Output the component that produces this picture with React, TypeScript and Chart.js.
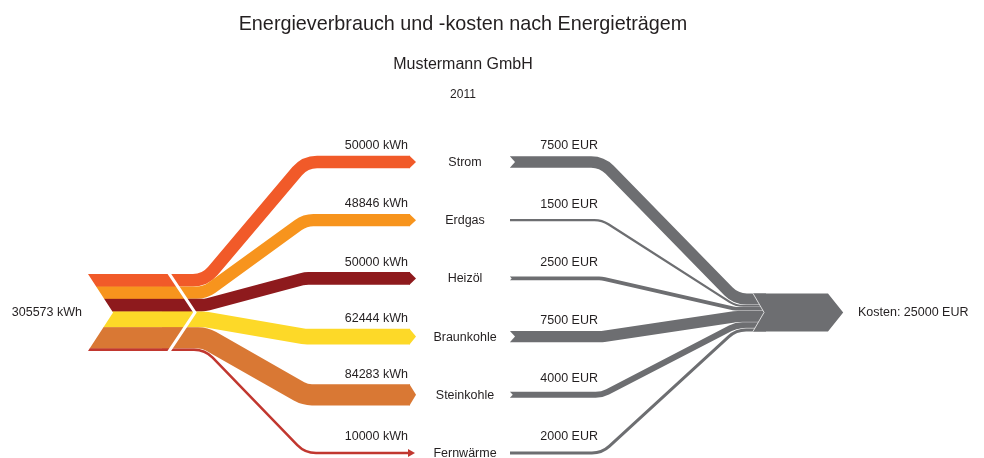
import React, { useEffect, useRef } from 'react';
import { Chart, registerables } from 'chart.js';

Chart.register(...registerables);

// ---------- data ----------
const chartTitle = 'Energieverbrauch und -kosten nach Energieträgem';
const chartSubtitle = 'Mustermann GmbH';
const chartYear = '2011';

const carriers = ['Strom', 'Erdgas', 'Heizöl', 'Braunkohle', 'Steinkohle', 'Fernwärme'];
const consumptionKWh = [50000, 48846, 50000, 62444, 84283, 10000];
const costsEUR = [7500, 1500, 2500, 7500, 4000, 2000];

const carrierColors = ['#F15A29', '#F7941D', '#8E1A1D', '#FDD928', '#D97834', '#C1372F'];
const costColor = '#6D6E71';
const textColor = '#231F20';

const totalKWh = consumptionKWh.reduce((a, b) => a + b, 0);
const totalEUR = costsEUR.reduce((a, b) => a + b, 0);

// ---------- layout (axis units) ----------
// x axis: layout units across the canvas; y axis: node rows (0..5)
const X_MIN = 0;
const X_MAX = 984;
const Y_MIN = -2.783;
const Y_MAX = 5.086;
const BLOCK_ROW = 2.585;
const KWH_PER_ROW = 231000;
const EUR_PER_ROW = 38300;

const SRC_LEFT = 88;
const SRC_CUT = 168;
const KWH_BEND1 = 205;
const KWH_BEND2 = 305;
const KWH_END = 410;
const NODE_LABEL_X = 465;
const KWH_LABEL_X = 408;
const EUR_START = 510;
const EUR_BEND1 = 602;
const EUR_BEND2 = 736;
const EUR_END = 766;
const EUR_LABEL_X = 598;
const SINK_LEFT = 753;
const SINK_TIP_START = 828;
const SOURCE_LABEL_X = 82;
const SINK_LABEL_X = 858;
const TITLE_X = 463;

const FONT = '"Liberation Sans", Arial, Helvetica, sans-serif';

function fmt(n: number) {
  return String(n);
}

const sankeyPlugin = {
  id: 'sankeyPlugin',
  afterDatasetsDraw(chart: any) {
    const ctx: CanvasRenderingContext2D = chart.ctx;
    const xs = chart.scales.x;
    const ys = chart.scales.y;
    const X = (v: number) => xs.getPixelForValue(v);
    const Y = (v: number) => ys.getPixelForValue(v);
    const pxPerRow = Y(1) - Y(0);
    const kwhPx = (v: number) => (v / KWH_PER_ROW) * pxPerRow;
    const eurPx = (v: number) => (v / EUR_PER_ROW) * pxPerRow;

    ctx.save();

    // ---- titles ----
    ctx.fillStyle = textColor;
    ctx.textAlign = 'center';
    ctx.textBaseline = 'alphabetic';
    const cx = X(TITLE_X);
    ctx.font = `19.8px ${FONT}`;
    ctx.fillText(chartTitle, cx, 30);
    ctx.font = `16px ${FONT}`;
    ctx.fillText(chartSubtitle, cx, 69);
    ctx.font = `12px ${FONT}`;
    ctx.fillText(chartYear, cx, 98);

    // ---- source block geometry ----
    const blockCenter = Y(BLOCK_ROW);
    const T = kwhPx(totalKWh);
    const top = blockCenter - T / 2;
    const bottom = blockCenter + T / 2;
    const chevDepth = 0.7 * (T / 2);

    const srcCenters: number[] = [];
    const srcThick: number[] = [];
    let acc = top;
    consumptionKWh.forEach((v) => {
      const t = kwhPx(v);
      srcThick.push(t);
      srcCenters.push(acc + t / 2);
      acc += t;
    });

    // ---- kWh flows ----
    const r = 26;
    consumptionKWh.forEach((v, i) => {
      const t = srcThick[i];
      const y0 = srcCenters[i];
      const y1 = Y(i);
      ctx.beginPath();
      ctx.moveTo(X(SRC_CUT) - 6, y0);
      ctx.arcTo(X(KWH_BEND1), y0, X(KWH_BEND2), y1, r);
      ctx.arcTo(X(KWH_BEND2), y1, X(KWH_END), y1, r);
      ctx.lineTo(X(KWH_END), y1);
      ctx.lineWidth = t;
      ctx.lineCap = 'butt';
      ctx.lineJoin = 'round';
      ctx.strokeStyle = carrierColors[i];
      ctx.stroke();

      // arrow tip
      ctx.beginPath();
      const h = t / 2;
      if (h >= 3) {
        ctx.moveTo(X(KWH_END) - 0.5, y1 - h);
        ctx.lineTo(X(KWH_END) + 6, y1);
        ctx.lineTo(X(KWH_END) - 0.5, y1 + h);
      } else {
        ctx.moveTo(X(KWH_END) - 2, y1 - 4);
        ctx.lineTo(X(KWH_END) + 5, y1);
        ctx.lineTo(X(KWH_END) - 2, y1 + 4);
      }
      ctx.closePath();
      ctx.fillStyle = carrierColors[i];
      ctx.fill();
    });

    // ---- source block ----
    ctx.save();
    ctx.beginPath();
    ctx.moveTo(X(SRC_LEFT), top);
    ctx.lineTo(X(SRC_CUT), top);
    ctx.lineTo(X(SRC_CUT) + chevDepth, blockCenter);
    ctx.lineTo(X(SRC_CUT), bottom);
    ctx.lineTo(X(SRC_LEFT), bottom);
    ctx.lineTo(X(SRC_LEFT) + chevDepth * 0.93, blockCenter);
    ctx.closePath();
    ctx.clip();
    consumptionKWh.forEach((v, i) => {
      ctx.fillStyle = carrierColors[i];
      ctx.fillRect(X(SRC_LEFT) - 1, srcCenters[i] - srcThick[i] / 2, X(SRC_CUT) + chevDepth - X(SRC_LEFT) + 2, srcThick[i] + 0.4);
    });
    ctx.restore();
    ctx.beginPath();
    ctx.moveTo(X(SRC_CUT), top - 2);
    ctx.lineTo(X(SRC_CUT) + chevDepth, blockCenter);
    ctx.lineTo(X(SRC_CUT), bottom + 2);
    ctx.lineWidth = 3;
    ctx.strokeStyle = '#FFFFFF';
    ctx.lineJoin = 'miter';
    ctx.stroke();

    // ---- sink geometry ----
    const S = eurPx(totalEUR);
    const sTop = blockCenter - S / 2;
    const sBottom = blockCenter + S / 2;
    const sinkCenters: number[] = [];
    const sinkThick: number[] = [];
    acc = sTop;
    costsEUR.forEach((v) => {
      const t = eurPx(v);
      sinkThick.push(t);
      sinkCenters.push(acc + t / 2);
      acc += t;
    });

    // ---- EUR flows ----
    costsEUR.forEach((v, i) => {
      const t = sinkThick[i];
      const y0 = Y(i);
      const y1 = sinkCenters[i];
      const path = () => {
        ctx.beginPath();
        ctx.moveTo(X(EUR_START), y0);
        ctx.arcTo(X(EUR_BEND1), y0, X(EUR_BEND2), y1, r);
        ctx.arcTo(X(EUR_BEND2), y1, X(EUR_END), y1, r);
        ctx.lineTo(X(EUR_END), y1);
      };
      ctx.lineCap = 'butt';
      ctx.lineJoin = 'round';
      path();
      ctx.lineWidth = t + 1.2;
      ctx.strokeStyle = 'rgba(255,255,255,0.55)';
      ctx.stroke();
      path();
      ctx.lineWidth = t;
      ctx.strokeStyle = costColor;
      ctx.stroke();

      // notch at tail
      const h = t / 2;
      const d = Math.min(5, h * 0.9);
      if (d > 1.5) {
        ctx.beginPath();
        ctx.moveTo(X(EUR_START) - 1, y0 - h - 1);
        ctx.lineTo(X(EUR_START) + d, y0);
        ctx.lineTo(X(EUR_START) - 1, y0 + h + 1);
        ctx.closePath();
        ctx.fillStyle = '#FFFFFF';
        ctx.fill();
      }
    });

    // ---- sink block ----
    const sNotch = 0.58 * (S / 2);
    const sTip = 0.8 * (S / 2);
    ctx.beginPath();
    ctx.moveTo(X(SINK_LEFT), sTop);
    ctx.lineTo(X(SINK_TIP_START), sTop);
    ctx.lineTo(X(SINK_TIP_START) + sTip, blockCenter);
    ctx.lineTo(X(SINK_TIP_START), sBottom);
    ctx.lineTo(X(SINK_LEFT), sBottom);
    ctx.lineTo(X(SINK_LEFT) + sNotch, blockCenter);
    ctx.closePath();
    ctx.fillStyle = costColor;
    ctx.fill();
    ctx.beginPath();
    ctx.moveTo(X(SINK_LEFT), sTop);
    ctx.lineTo(X(SINK_LEFT) + sNotch, blockCenter);
    ctx.lineTo(X(SINK_LEFT), sBottom);
    ctx.lineWidth = 1;
    ctx.strokeStyle = 'rgba(255,255,255,0.75)';
    ctx.lineJoin = 'miter';
    ctx.stroke();

    // ---- labels ----
    ctx.fillStyle = textColor;
    ctx.font = `12.5px ${FONT}`;
    ctx.textBaseline = 'middle';

    carriers.forEach((name, i) => {
      const yRow = Y(i);
      ctx.textAlign = 'center';
      ctx.fillText(name, X(NODE_LABEL_X), yRow + 0.5);
      ctx.textAlign = 'right';
      const kOff = Math.max(16, srcThick[i] / 2 + 10);
      ctx.fillText(`${fmt(consumptionKWh[i])} kWh`, X(KWH_LABEL_X), yRow - kOff);
      const eOff = Math.max(16, sinkThick[i] / 2 + 10);
      ctx.fillText(`${fmt(costsEUR[i])} EUR`, X(EUR_LABEL_X), yRow - eOff);
    });

    ctx.textAlign = 'right';
    ctx.fillText(`${fmt(totalKWh)} kWh`, X(SOURCE_LABEL_X), blockCenter + 0.5);
    ctx.textAlign = 'left';
    ctx.fillText(`Kosten: ${fmt(totalEUR)} EUR`, X(SINK_LABEL_X), blockCenter + 0.5);

    ctx.restore();
  },
};

export default function App() {
  const canvasRef = useRef<HTMLCanvasElement | null>(null);

  useEffect(() => {
    document.body.style.margin = '0';
    const canvas = canvasRef.current;
    if (!canvas) return;
    const chart = new Chart(canvas, {
      type: 'scatter',
      data: {
        datasets: [
          {
            label: 'Energieträger',
            data: carriers.map((_, i) => ({ x: NODE_LABEL_X, y: i })),
            pointRadius: 0,
            pointHoverRadius: 0,
            showLine: false,
          },
        ],
      },
      options: {
        responsive: false,
        animation: false,
        events: [],
        layout: { padding: 0 },
        plugins: {
          legend: { display: false },
          title: { display: false },
          tooltip: { enabled: false },
        },
        scales: {
          x: { type: 'linear', display: false, min: X_MIN, max: X_MAX },
          y: { type: 'linear', display: false, min: Y_MIN, max: Y_MAX, reverse: true },
        },
      },
      plugins: [sankeyPlugin],
    });
    return () => chart.destroy();
  }, []);

  return (
    <div style={{ position: 'fixed', left: 0, top: 0, width: 984, height: 458, background: '#FFFFFF' }}>
      <canvas ref={canvasRef} width={984} height={458} style={{ display: 'block' }} />
    </div>
  );
}
